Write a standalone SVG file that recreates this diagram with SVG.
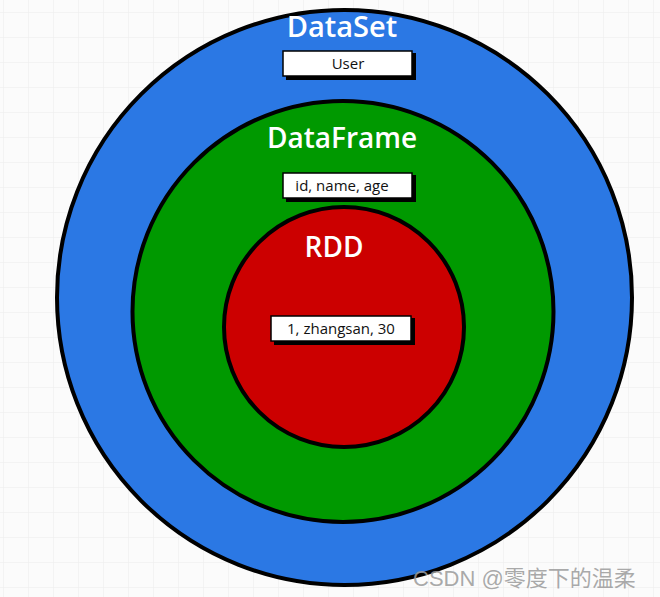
<svg xmlns="http://www.w3.org/2000/svg" width="660" height="597" viewBox="0 0 660 597">
<defs>
<pattern id="grid" x="3" y="12" width="25" height="25" patternUnits="userSpaceOnUse">
<path d="M25 0H0V25" fill="none" stroke="#ececec" stroke-width="1"/>
</pattern>
</defs>
<style>
.ring{stroke:#000;stroke-width:4}
.title{font-family:"Open Sans","DejaVu Sans",sans-serif;font-weight:600;fill:#fff;text-anchor:middle}
.box{fill:#fff;stroke:#000;stroke-width:1.5}
.shadow{fill:#000}
.lbl{font-family:"Open Sans","DejaVu Sans",sans-serif;font-size:15px;fill:#111;text-anchor:middle}
.wm{font-family:"Liberation Sans","Noto Sans CJK SC",sans-serif;font-size:22px;fill:#9a9a9a;fill-opacity:0.85}
</style>
<rect width="660" height="597" fill="#fbfbfb"/>
<rect width="660" height="597" fill="url(#grid)"/>
<g id="dataset">
<circle class="ring" cx="344.5" cy="297.5" r="287.5" fill="#2b78e4"/>
<text class="title" x="342" y="37" font-size="29">DataSet</text>
<rect class="shadow" x="286" y="53" width="130" height="27"/>
<rect class="box" x="283" y="51" width="129" height="25"/>
<text class="lbl" x="348" y="69">User</text>
</g>
<g id="dataframe">
<circle class="ring" cx="343" cy="311.5" r="210.5" fill="#009900"/>
<text class="title" x="342" y="148" font-size="28">DataFrame</text>
<rect class="shadow" x="286" y="175" width="130" height="27"/>
<rect class="box" x="283" y="173" width="129" height="25"/>
<text class="lbl" x="342" y="191">id, name, age</text>
</g>
<g id="rdd">
<circle class="ring" cx="344" cy="327" r="120" fill="#cc0000"/>
<text class="title" x="334" y="257" font-size="28">RDD</text>
<rect class="shadow" x="274" y="318" width="141" height="27"/>
<rect class="box" x="271" y="316" width="140" height="25"/>
<text class="lbl" x="341" y="334">1, zhangsan, 30</text>
</g>
<g id="connectors"/>
<text class="wm" x="413" y="586">CSDN @零度下的温柔</text>
</svg>
